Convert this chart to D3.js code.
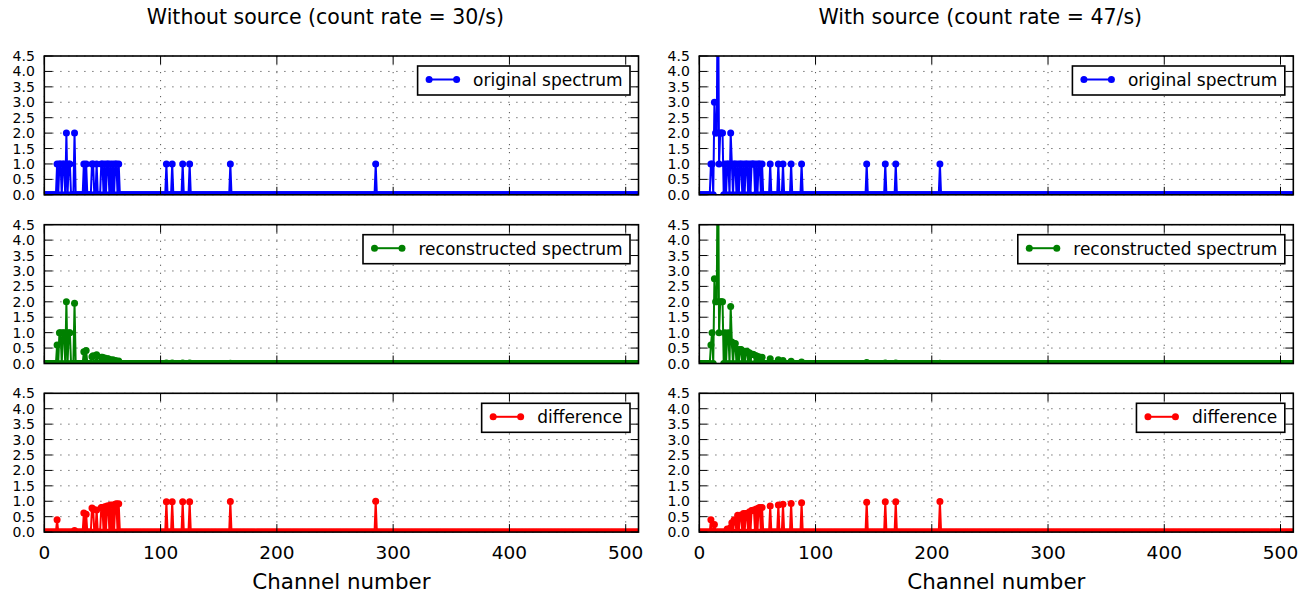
<!DOCTYPE html>
<html><head><meta charset="utf-8">
<script src="https://cdn.jsdelivr.net/npm/d3@7"></script>
<style>
body{margin:0;background:#fff}
svg{display:block}
text{font-family:"DejaVu Sans",sans-serif;fill:#000}
</style>
</head><body>
<svg id="chart" width="1316" height="594"></svg>
<script>
// ---------------- data ----------------
const nChannels = 512;
const xTicks = [0, 100, 200, 300, 400, 500];
const yTicks = [0, 0.5, 1, 1.5, 2, 2.5, 3, 3.5, 4, 4.5];
const columnTitles = ["Without source (count rate = 30/s)", "With source (count rate = 47/s)"];
const seriesNames = ["original spectrum", "reconstructed spectrum", "difference"];
const seriesColors = ["#0000ff", "#008000", "#ff0000"];
const xLabel = "Channel number";

// Without source
const noSrcOrigCh  = [11,13,14,16,17,19,21,22,26,34,36,41,42,45,49,50,52,54,55,57,59,61,62,64,105,110,119,125,160,285];
const noSrcOrigVal = [1,1,1,1,1,2,1,1,2,1,1,1,1,1,1,1,1,1,1,1,1,1,1,1,1,1,1,1,1,1];
const noSrcRecoCh  = [11,13,14,16,17,19,21,22,26,34,36,41,42,45,49,50,52,54,55,57,59,61,62,64,105,110,119,125,160];
const noSrcRecoVal = [0.6,1.0,1.0,1.0,1.0,2.0,1.0,1.0,1.95,0.38,0.42,0.22,0.25,0.28,0.2,0.2,0.18,0.15,0.15,0.12,0.12,0.1,0.08,0.08,0.02,0.02,0.02,0.02,0.01];
const noSrcDiffCh  = [11,26,34,36,41,42,45,49,50,52,54,55,57,59,61,62,64,105,110,119,125,160,285];
const noSrcDiffVal = [0.4,0.05,0.62,0.58,0.78,0.75,0.72,0.8,0.8,0.82,0.85,0.85,0.88,0.88,0.9,0.92,0.92,0.98,0.98,0.98,0.98,0.99,1.0];

// With source
const srcOrigCh  = [10,11,13,14,15,16,17,18,19,20,22,24,25,27,28,30,31,33,35,36,38,40,41,43,45,46,47,49,51,52,54,61,68,72,79,88,144,160,169,207];
const srcOrigVal = [1,1,3,2,2,8,1,2,2,2,1,1,1,2,1,1,1,1,1,1,1,1,1,1,1,1,1,1,1,1,1,1,1,1,1,1,1,1,1,1];
const srcRecoCh  = [10,11,13,14,15,16,17,18,19,20,22,24,25,27,28,30,31,33,35,36,38,40,41,43,45,46,47,49,51,52,54,61,68,72,79,88,144,160,169,207];
const srcRecoVal = [0.6,1.0,2.75,2.0,2.0,8,1.0,2.0,2.0,2.0,1.0,0.9,1.0,1.85,0.7,0.6,0.65,0.45,0.45,0.45,0.4,0.4,0.4,0.35,0.3,0.3,0.28,0.25,0.22,0.2,0.2,0.15,0.12,0.1,0.07,0.05,0.03,0.02,0.02,0.01];
const srcDiffCh  = [10,13,24,27,28,30,31,33,35,36,38,40,41,43,45,46,47,49,51,52,54,61,68,72,79,88,144,160,169,207];
const srcDiffVal = [0.4,0.25,0.1,0.15,0.3,0.4,0.35,0.55,0.55,0.55,0.6,0.6,0.6,0.65,0.7,0.7,0.72,0.75,0.78,0.8,0.8,0.85,0.88,0.9,0.93,0.95,0.97,0.98,0.98,0.99];

const panels = [
  [[noSrcOrigCh, noSrcOrigVal], [noSrcRecoCh, noSrcRecoVal], [noSrcDiffCh, noSrcDiffVal]],
  [[srcOrigCh, srcOrigVal], [srcRecoCh, srcRecoVal], [srcDiffCh, srcDiffVal]]
];

// ---------------- layout ----------------
const colX = [[44.3, 638.5], [699.3, 1293.3]];
const rowTop = [56, 224.7, 393.3];
const axH = 138.8;
const lw = 2, mr = 3.5;

const svg = d3.select("#chart");
const defs = svg.append("defs");

panels.forEach((col, ci) => {
  const x = d3.scaleLinear().domain([0, nChannels - 1]).range(colX[ci]);
  const cx = (colX[ci][0] + colX[ci][1]) / 2;

  svg.append("text").attr("x", cx - 16).attr("y", 24).attr("text-anchor", "middle")
    .style("font-size", "20.5px").text(columnTitles[ci]);

  col.forEach((ser, ri) => {
    const [chs, vals] = ser;
    const top = rowTop[ri];
    const y = d3.scaleLinear().domain([0, 4.5]).range([top + axH, top]);
    const color = seriesColors[ri];
    const g = svg.append("g");
    const clipId = `clip-${ci}-${ri}`;
    defs.append("clipPath").attr("id", clipId).append("rect")
      .attr("x", colX[ci][0]).attr("y", top).attr("width", colX[ci][1] - colX[ci][0]).attr("height", axH);

    // grid
    const grid = g.append("g").attr("stroke", "#555").attr("stroke-width", 1).attr("stroke-dasharray", "1.2,6.8");
    xTicks.forEach(t => grid.append("line").attr("x1", x(t)).attr("x2", x(t)).attr("y1", top).attr("y2", top + axH));
    yTicks.forEach(t => grid.append("line").attr("x1", colX[ci][0]).attr("x2", colX[ci][1]).attr("y1", y(t)).attr("y2", y(t)));

    // full spectrum from sparse data
    const m = new Map(chs.map((c, i) => [c, vals[i]]));
    const pts = d3.range(nChannels).map(c => ({c, v: m.get(c) || 0}));

    const plot = g.append("g").attr("clip-path", `url(#${clipId})`);
    plot.append("path").datum(pts)
      .attr("d", d3.line().x(d => x(d.c)).y(d => y(d.v)))
      .attr("fill", "none").attr("stroke", color).attr("stroke-width", lw).attr("stroke-linejoin", "round");
    plot.append("g").selectAll("circle").data(pts).join("circle")
      .attr("cx", d => x(d.c)).attr("cy", d => y(d.v)).attr("r", mr).attr("fill", color);

    // spines
    g.append("rect").attr("x", colX[ci][0]).attr("y", top).attr("width", colX[ci][1] - colX[ci][0]).attr("height", axH)
      .attr("fill", "none").attr("stroke", "#000").attr("stroke-width", 1.6);

    // ticks (inside, all sides)
    const tk = g.append("g").attr("stroke", "#000").attr("stroke-width", 1);
    yTicks.forEach(t => {
      tk.append("line").attr("x1", colX[ci][0]).attr("x2", colX[ci][0] + 8).attr("y1", y(t)).attr("y2", y(t));
      tk.append("line").attr("x1", colX[ci][1]).attr("x2", colX[ci][1] - 8).attr("y1", y(t)).attr("y2", y(t));
    });
    xTicks.forEach(t => {
      tk.append("line").attr("x1", x(t)).attr("x2", x(t)).attr("y1", top).attr("y2", top + 8);
      tk.append("line").attr("x1", x(t)).attr("x2", x(t)).attr("y1", top + axH).attr("y2", top + axH - 8);
    });

    // y tick labels
    yTicks.forEach(t => {
      g.append("text").attr("x", colX[ci][0] - 9.5).attr("y", y(t) + 5).attr("text-anchor", "end")
        .style("font-size", "14px").text(d3.format(".1f")(t));
    });

    // x tick labels on bottom row
    if (ri === 2) {
      xTicks.forEach(t => {
        g.append("text").attr("x", x(t)).attr("y", top + axH + 27).attr("text-anchor", "middle")
          .style("font-size", "18.5px").text(t);
      });
      g.append("text").attr("x", cx).attr("y", 589).attr("text-anchor", "middle")
        .style("font-size", "21.4px").text(xLabel);
    }

    // legend
    const lg = g.append("g");
    const boxRight = colX[ci][1] - 8.5, boxTop = top + 10, boxH = 29;
    const txt = lg.append("text").style("font-size", "17px").text(seriesNames[ri]);
    const tw = txt.node().getComputedTextLength();
    const boxLeft = boxRight - (11.5 + 27.5 + 16.5 + tw + 7.5);
    lg.insert("rect", "text").attr("x", boxLeft).attr("y", boxTop).attr("width", boxRight - boxLeft).attr("height", boxH)
      .attr("fill", "#fff").attr("stroke", "#000").attr("stroke-width", 1.6);
    const hx0 = boxLeft + 11.5, hx1 = hx0 + 27.5, hy = boxTop + 13.5;
    lg.append("line").attr("x1", hx0).attr("x2", hx1).attr("y1", hy).attr("y2", hy)
      .attr("stroke", color).attr("stroke-width", lw);
    [hx0, hx1].forEach(hx => lg.append("circle").attr("cx", hx).attr("cy", hy).attr("r", mr).attr("fill", color));
    txt.attr("x", hx1 + 16.5).attr("y", boxTop + 20);
  });
});
</script>
</body></html>
